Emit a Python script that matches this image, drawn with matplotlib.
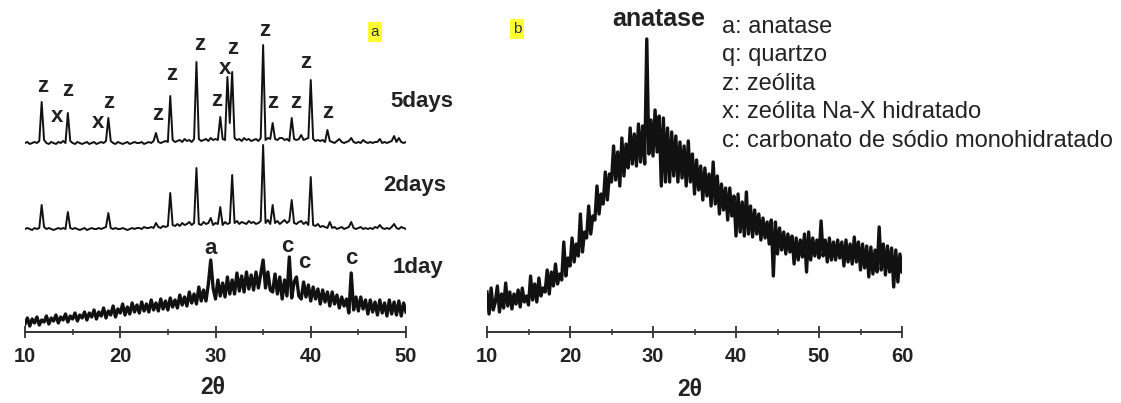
import numpy as np
import matplotlib.pyplot as plt
from matplotlib.ticker import MultipleLocator

plt.rcParams['font.family'] = ['Liberation Sans', 'DejaVu Sans']

# 2-theta grid, 0.25 degree step
tt_a = np.arange(10, 50.001, 0.25)
tt_b = np.arange(10, 60.001, 0.25)

# (a) zeolite synthesis, counts above each trace's own baseline
days5 = [0, 1, -1, 0,  1, 0, 2, 41,  3, 0, -1, 1,  0, -1, 1, 0,  2, 0, 30, 2,
         0, -1, 1, 0,  -1, 0, 1, -1,  0, 1, -1, 0,  1, 0, 2, 25,  2, 0, -1, 1,
         0, -1, 0, 1,  -1, 0, 1, 0,  0, 1, -1, 0,  1, 0, 2, 10,  1, 0, 1, 2,
         1, 47, 3, 1,  2, 3, 1, 4,  2, 3, 1, 4,  81, 4, 2, 3,  4, 2, 5, 3,
         4, 3, 26, 4,  3, 66, 20, 71,  5, 3, 4, 2,  5, 3, 4, 2,  3, 4, 2, 5,
         98, 3, 5, 4,  20, 4, 3, 5,  5, 3, 4, 2,  25, 4, 3, 4,  8, 3, 4, 5,
         63, 4, 2, 3,  2, 3, 1, 13,  2, 1, 0, 2,  4, 1, 0, 1,  2, 5, 1, 0,
         1, 0, 3, 1,  0, 1, 0, 1,  1, 4, 0, 1,  0, 1, 2, 7,  1, 5, 1, 0,  1]

days2 = [0, 1, 0, -1,  1, 0, 1, 24,  2, 0, 1, 0,  -1, 0, 1, 0,  1, 0, 17, 1,
         0, 1, 0, -1,  0, 1, -1, 0,  1, 0, 0, 1,  0, 1, 2, 16,  1, 0, 1, 0,
         0, 1, 0, -1,  0, 1, 0, 1,  1, 0, 2, 1,  1, 2, 1, 6,  2, 1, 3, 2,
         3, 36, 4, 3,  5, 3, 6, 4,  5, 7, 4, 6,  61, 5, 4, 7,  5, 6, 11, 4,
         6, 5, 22, 4,  7, 5, 6, 54,  6, 8, 5, 7,  6, 5, 8, 6,  7, 5, 6, 8,
         84, 6, 9, 5,  24, 6, 8, 5,  7, 9, 6, 8,  29, 6, 5, 7,  8, 5, 7, 4,
         52, 4, 3, 5,  2, 3, 2, 1,  7, 1, 2, 0,  1, 2, 0, 1,  2, 7, 1, 0,
         1, 2, 0, 1,  0, 1, 0, 2,  1, 4, 1, 0,  1, 0, 2, 5,  1, 0, 2, 1,  0]

day1 = [8, 14, 6, 13,  9, 15, 7, 12,  10, 16, 8, 14,  11, 17, 9, 15,  12, 18, 10, 16,
        13, 19, 11, 17,  14, 20, 12, 19,  15, 22, 13, 20,  16, 24, 14, 21,  17, 26, 15, 23,
        19, 28, 17, 25,  18, 29, 20, 27,  19, 30, 21, 28,  20, 32, 22, 29,  21, 33, 23, 31,
        22, 34, 25, 32,  24, 37, 27, 35,  26, 40, 29, 38,  28, 45, 31, 42,  31, 48, 72, 44,
        33, 52, 36, 49,  35, 55, 38, 52,  38, 59, 41, 56,  40, 60, 43, 57,  42, 60, 44, 58,
        72, 44, 60, 42,  40, 58, 38, 55,  33, 52, 36, 75,  34, 50, 55, 36,  33, 50, 35, 47,
        31, 45, 33, 43,  28, 42, 30, 40,  26, 40, 28, 37,  24, 35, 26, 33,  19, 59, 22, 35,
        21, 35, 23, 32,  18, 32, 20, 30,  17, 32, 19, 29,  16, 32, 18, 30,  17, 31, 16, 29,  20]

# (b) amorphous precursor with the anatase reflection
amorph = [40, 18, 44, 22,  30, 46, 20, 38,  24, 49, 26, 40,  23, 38, 28, 42,  25, 44, 30, 36,
          27, 56, 32, 48,  30, 54, 36, 44,  40, 62, 38, 60,  46, 68, 48, 58,  52, 90, 56, 74,
          66, 94, 70, 88,  76, 118, 80, 100,  94, 126, 98, 116,  112, 146, 118, 138,  128, 160, 132, 158,
          150, 186, 152, 180,  146, 194, 156, 188,  164, 204, 168, 198,  166, 208, 170, 206,  168, 293, 178, 212,
          176, 222, 180, 216,  146, 214, 150, 204,  150, 200, 156, 196,  150, 190, 154, 186,  146, 191, 150, 178,
          138, 172, 142, 166,  132, 164, 136, 158,  126, 170, 128, 156,  118, 148, 122, 144,  112, 144, 116, 136,
          96, 138, 100, 130,  96, 140, 98, 126,  95, 122, 98, 118,  92, 114, 94, 110,  88, 112, 56, 110,
          78, 104, 82, 100,  78, 98, 80, 96,  68, 94, 72, 92,  75, 98, 60, 100,  72, 94, 76, 92,
          74, 111, 76, 92,  70, 94, 72, 90,  72, 92, 74, 90,  66, 92, 70, 88,  68, 95, 70, 90,
          62, 88, 64, 86,  55, 85, 58, 82,  60, 105, 62, 88,  57, 86, 60, 84,  45, 82, 50, 78,  60]

offsets = {'5days': 189, '2days': 103, '1day': 0}

W, H = 1121, 403
fig = plt.figure(figsize=(W / 100, H / 100), dpi=100)
ax_a = fig.add_axes([25 / W, 71 / H, 381 / W, 332 / H])
ax_b = fig.add_axes([487 / W, 71 / H, 415 / W, 332 / H])

ax_a.plot(tt_a, np.array(days5) + offsets['5days'], color='#111111', lw=1.4)
ax_a.plot(tt_a, np.array(days2) + offsets['2days'], color='#111111', lw=1.4)
ax_a.plot(tt_a, np.array(day1) + offsets['1day'], color='#111111', lw=2.4)
ax_b.plot(tt_b, amorph, color='#111111', lw=2.4)

ax_a.set_xlim(10, 50)
ax_b.set_xlim(10, 60)
for ax in (ax_a, ax_b):
    ax.set_ylim(0, 332)
    ax.set_yticks([])
    for side in ('left', 'right', 'top'):
        ax.spines[side].set_visible(False)
    ax.spines['bottom'].set_linewidth(1.4)
    ax.spines['bottom'].set_color('#333333')
    ax.xaxis.set_major_locator(MultipleLocator(10))
    ax.xaxis.set_minor_locator(MultipleLocator(5))
    ax.tick_params(axis='x', which='major', direction='inout', length=8, width=1.3,
                   color='#333333', labelsize=14.5, pad=7, labelcolor='#222222')
    ax.tick_params(axis='x', which='minor', direction='inout', length=5, width=1.1,
                   color='#333333')
    ax.patch.set_alpha(0)
    for lab in ax.get_xticklabels():
        lab.set_fontweight('bold')

fig.text(213 / W, 1 - 387 / H, '2θ', ha='center', va='center', fontsize=16.5,
         fontweight='bold', color='#222222')
fig.text(690 / W, 1 - 389 / H, '2θ', ha='center', va='center', fontsize=16.5,
         fontweight='bold', color='#222222')

# peak assignments above the traces
lab_kw = dict(ha='center', va='center', fontsize=16, fontweight='bold', color='#222222')
peak_labels = [('z', 11.8, 245), ('z', 14.5, 242), ('x', 13.4, 215), ('x', 17.7, 209),
               ('z', 18.8, 229), ('z', 23.9, 217), ('z', 25.4, 258), ('z', 28.3, 287),
               ('x', 31.0, 264), ('z', 31.8, 284), ('z', 30.1, 232), ('z', 35.2, 302),
               ('z', 36.0, 229), ('z', 38.4, 230), ('z', 39.5, 269), ('z', 41.8, 219),
               ('a', 29.5, 84), ('c', 37.5, 86), ('c', 39.3, 70), ('c', 44.3, 74)]
for txt, x, y in peak_labels:
    ax_a.text(x, y, txt, **lab_kw)

ax_a.text(48.4, 230, '5days', ha='left', va='center', fontsize=16, fontweight='bold', color='#222222')
ax_a.text(47.6, 147, '2days', ha='left', va='center', fontsize=16, fontweight='bold', color='#222222')
ax_a.text(48.6, 65, '1day', ha='left', va='center', fontsize=16, fontweight='bold', color='#222222')

ax_b.text(30.7, 313, 'anatase', ha='center', va='center', fontsize=18, fontweight='bold',
          color='#222222')

# panel tags
fig.text(375 / W, 1 - 32 / H, 'a', ha='center', va='center', fontsize=11, color='#333333',
         bbox=dict(boxstyle='square,pad=0.2', fc='#ffff33', ec='none'))
fig.text(517 / W, 1 - 29 / H, 'b', ha='center', va='center', fontsize=11, color='#333333',
         bbox=dict(boxstyle='square,pad=0.2', fc='#ffff33', ec='none'))

legend_lines = ['a: anatase', 'q: quartzo', 'z: zeólita', 'x: zeólita Na-X hidratado',
                'c: carbonato de sódio monohidratado']
for i, line in enumerate(legend_lines):
    fig.text(722 / W, 1 - (27 + 28.5 * i) / H, line, ha='left', va='center', fontsize=17,
             color='#222222')

fig.savefig('out.png', dpi=100, facecolor='white')
